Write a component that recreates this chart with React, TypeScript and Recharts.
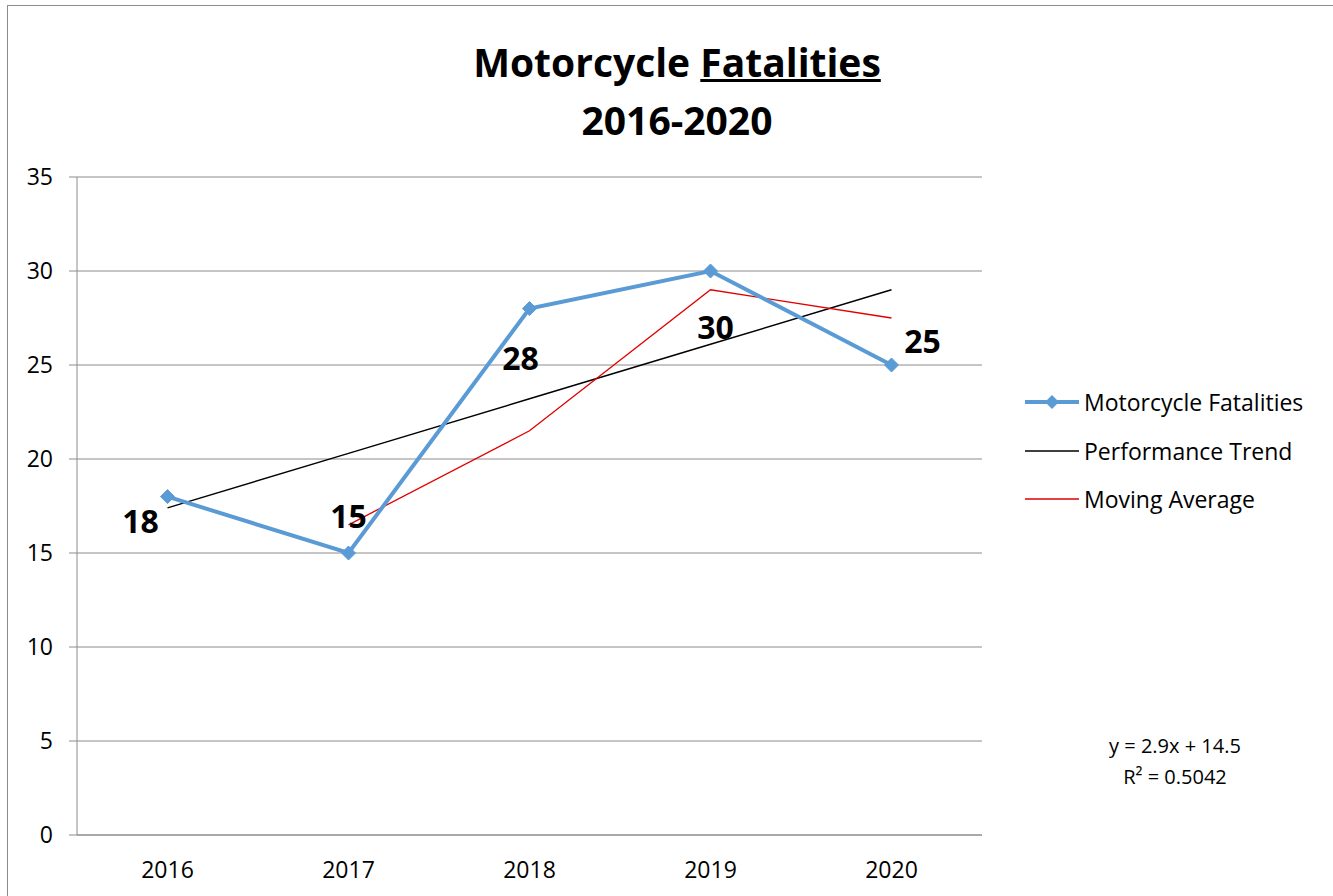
import React from "react";
import { ComposedChart, Line, XAxis, YAxis, CartesianGrid } from "recharts";

const years = [2016, 2017, 2018, 2019, 2020];
const fatalities = [18, 15, 28, 30, 25];
const trend = [17.4, 20.3, 23.2, 26.1, 29.0];
const movingAvg = [null, 16.5, 21.5, 29, 27.5];
const yTicks = [0, 5, 10, 15, 20, 25, 30, 35];
const yearEdges = [2015.5, 2016.5, 2017.5, 2018.5, 2019.5, 2020.5];

const data = years.map((year, i) => ({
    year,
    fatalities: fatalities[i],
    trend: trend[i],
    movingAvg: movingAvg[i],
}));

const FONT = '"Open Sans", "Noto Sans", sans-serif';
const BLUE = "#5B9BD5";
const GRAY = "#8c8c8c";

// where each data label sits relative to its point (px)
const labelOffsets = [
    [-27, 24],
    [0, -38],
    [-9, 49],
    [5, 55],
    [31, -25],
];

const Diamond = (props: any) => {
    const { cx, cy } = props;
    if (cx == null || cy == null) return null;
    const r = 7;
    return (
        <polygon
            points={`${cx},${cy - r} ${cx + r},${cy} ${cx},${cy + r} ${cx - r},${cy}`}
            fill={BLUE}
            stroke={BLUE}
        />
    );
};

const PointLabel = (props: any) => {
    const { x, y, value, index } = props;
    const [dx, dy] = labelOffsets[index] || [0, -20];
    return (
        <text
            x={x + dx}
            y={y + dy}
            textAnchor="middle"
            dominantBaseline="central"
            fontFamily={FONT}
            fontWeight={700}
            fontSize={32}
            fill="#000"
        >
            {value}
        </text>
    );
};

const legendItems = [
    { name: "Motorcycle Fatalities", color: BLUE, width: 4, marker: true },
    { name: "Performance Trend", color: "#000", width: 1.5, marker: false },
    { name: "Moving Average", color: "#e00000", width: 1.5, marker: false },
];

export default function App() {
    return (
        <div
            style={{
                position: "absolute",
                left: 7,
                top: 5,
                width: 1325,
                height: 890,
                borderLeft: `1px solid ${GRAY}`,
                borderTop: `1px solid ${GRAY}`,
                background: "#fff",
                fontFamily: FONT,
            }}
        >
            <ComposedChart
                width={1325}
                height={890}
                data={data}
                margin={{ top: 171, right: 351, bottom: 31, left: 9 }}
            >
                <CartesianGrid xAxisId="yr" vertical={false} stroke={GRAY} strokeWidth={1} />
                <XAxis
                    xAxisId="edge"
                    dataKey="year"
                    type="number"
                    domain={[2015.5, 2020.5]}
                    ticks={yearEdges}
                    tick={false}
                    tickLine={{ stroke: GRAY }}
                    tickSize={8}
                    axisLine={false}
                    height={0}
                />
                <XAxis
                    xAxisId="yr"
                    dataKey="year"
                    type="number"
                    domain={[2015.5, 2020.5]}
                    ticks={years}
                    tickLine={false}
                    tickSize={8}
                    tickMargin={19}
                    axisLine={{ stroke: GRAY }}
                    tick={{ fill: "#000", fontSize: 23, fontFamily: FONT }}
                    height={30}
                />
                <YAxis
                    domain={[0, 35]}
                    ticks={yTicks}
                    width={60}
                    axisLine={{ stroke: GRAY }}
                    tickLine={{ stroke: GRAY }}
                    tickSize={8}
                    tickMargin={16}
                    tick={{ fill: "#000", fontSize: 23, fontFamily: FONT }}
                />
                <Line
                    xAxisId="yr"
                    dataKey="trend"
                    stroke="#000"
                    strokeWidth={1.5}
                    dot={false}
                    activeDot={false}
                    isAnimationActive={false}
                />
                <Line
                    xAxisId="yr"
                    dataKey="movingAvg"
                    stroke="#e00000"
                    strokeWidth={1.3}
                    dot={false}
                    activeDot={false}
                    isAnimationActive={false}
                />
                <Line
                    xAxisId="yr"
                    dataKey="fatalities"
                    stroke={BLUE}
                    strokeWidth={4}
                    dot={<Diamond />}
                    activeDot={false}
                    label={<PointLabel />}
                    isAnimationActive={false}
                />
            </ComposedChart>

            <div
                style={{
                    position: "absolute",
                    left: 269,
                    top: 27,
                    width: 800,
                    textAlign: "center",
                    fontWeight: 700,
                    fontSize: 39,
                    lineHeight: "58px",
                    color: "#000",
                }}
            >
                <div>
                    Motorcycle <span style={{ textDecoration: "underline" }}>Fatalities</span>
                </div>
                <div>2016-2020</div>
            </div>

            {legendItems.map((item, i) => (
                <div
                    key={item.name}
                    style={{
                        position: "absolute",
                        left: 1017,
                        top: 396 + i * 48.5 - 15,
                        height: 30,
                        display: "flex",
                        alignItems: "center",
                        fontSize: 23,
                        color: "#000",
                        whiteSpace: "nowrap",
                    }}
                >
                    <svg width={54} height={30} style={{ marginRight: 5 }}>
                        <line x1={0} y1={15} x2={54} y2={15} stroke={item.color} strokeWidth={item.width} />
                        {item.marker && <polygon points="27,8 34,15 27,22 20,15" fill={item.color} />}
                    </svg>
                    {item.name}
                </div>
            ))}

            <div
                style={{
                    position: "absolute",
                    left: 1067,
                    top: 724,
                    width: 200,
                    textAlign: "center",
                    fontSize: 20,
                    lineHeight: "31px",
                    color: "#000",
                }}
            >
                <div>y = 2.9x + 14.5</div>
                <div>R² = 0.5042</div>
            </div>
        </div>
    );
}
